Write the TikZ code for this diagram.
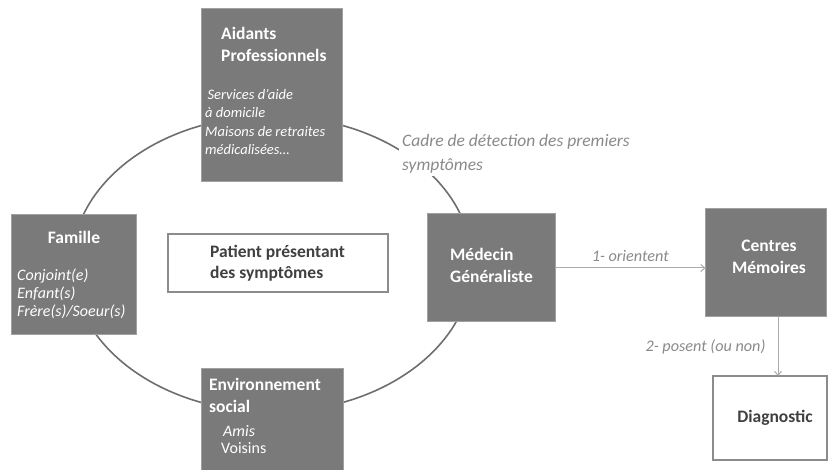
\documentclass[tikz,border=0pt]{standalone}
\usepackage{fontspec}
\setmainfont{Carlito}
\usetikzlibrary{calc,arrows.meta}
\definecolor{boxgrey}{HTML}{7A7A7A}
\definecolor{boxline}{HTML}{A0A0A0}
\definecolor{ringgrey}{HTML}{6E6E6E}
\definecolor{labgrey}{HTML}{8A8A8A}
\definecolor{darktext}{HTML}{404040}
\definecolor{arrgrey}{HTML}{ABABAB}
\definecolor{frame}{HTML}{8C8C8C}
\begin{document}
\begin{tikzpicture}[x=1pt,y=-1pt,
  darkbox/.style={draw=boxline, line width=1pt, fill=boxgrey, inner sep=0pt, outer sep=0pt},
  whitebox/.style={draw=frame, line width=1.6pt, fill=white, inner sep=0pt, outer sep=0pt},
  ttl/.style={text=white, inner sep=0pt, align=left, font=\fontsize{17.5}{22}\selectfont\bfseries},
  itm/.style={text=white, inner sep=0pt, align=left, font=\fontsize{16}{18}\selectfont\itshape},
  itmsmall/.style={text=white, inner sep=0pt, align=left, font=\fontsize{14.5}{18.5}\selectfont\itshape},
  dtx/.style={text=darktext, inner sep=0pt, align=left, font=\fontsize{17.5}{21}\selectfont\bfseries},
  lab/.style={text=labgrey, inner sep=0pt, align=left, font=\fontsize{16.2}{20}\selectfont\itshape},
  arr/.style={draw=arrgrey, line width=1pt, -{Straight Barb[length=4pt,width=7pt]}}
]
\useasboundingbox (0,0) rectangle (828,470);
% ring
\draw[ringgrey, line width=1.6pt] (272,264) ellipse [x radius=200, y radius=148];
% boxes
\node[darkbox, minimum width=141pt, minimum height=173pt] (aid) at (271.5,95.5) {};
\node[darkbox, minimum width=125pt, minimum height=120pt] (fam) at (73.5,275) {};
\node[darkbox, minimum width=142pt, minimum height=102pt] (env) at (272,420) {};
\node[darkbox, minimum width=128pt, minimum height=108pt] (med) at (491,268) {};
\node[darkbox, minimum width=121pt, minimum height=108pt] (cm) at (766,263) {};
\node[whitebox, minimum width=220pt, minimum height=58pt] (pat) at (278,263) {};
\node[whitebox, minimum width=114pt, minimum height=84pt] (diag) at (770,418) {};
% texts
\node[ttl, anchor=north west] (aidT) at (221,27) {Aidants\\Professionnels};
\node[itmsmall, anchor=north west] (aidI) at (205,89) {\,Services d’aide\\à domicile\\Maisons de retraites\\médicalisées…};
\node[ttl, anchor=north] (famT) at (74,231) {Famille};
\node[itm, anchor=north west] (famI) at (17,269) {Conjoint(e)\\Enfant(s)\\Frère(s)/Soeur(s)};
\node[dtx, anchor=north west] (patT) at (210,245) {Patient présentant\\des symptômes};
\node[ttl, anchor=north west] (envT) at (209,378) {Environnement\\social};
\node[itm, anchor=north west] (envA) at (223,425) {Amis};
\node[itm, font=\fontsize{16}{18}\selectfont, anchor=north west] (envV) at (221,442) {Voisins};
\node[ttl, anchor=north west] (medT) at (450,248) {Médecin\\Généraliste};
\node[ttl, anchor=north, align=center] (cmT) at (769,240) {Centres\\Mémoires};
\node[dtx, anchor=center] (diagT) at (775,418) {Diagnostic};
\node[lab, font=\fontsize{17.5}{24}\selectfont\itshape, fill=white, inner sep=3pt, anchor=north west] (cadre) at (399,131) {Cadre de détection des premiers\\symptômes};
% arrows
\draw[arr] (med.east) -- (med.east -| cm.west) node[lab, midway, above=6pt] (o1) {1- orientent};
\draw[arr] ($(cm.south)+(12,0)$) coordinate (c2) -- (c2 |- diag.north) node[lab, midway, left=12pt] (o2) {2- posent (ou non)};
\end{tikzpicture}
\end{document}
